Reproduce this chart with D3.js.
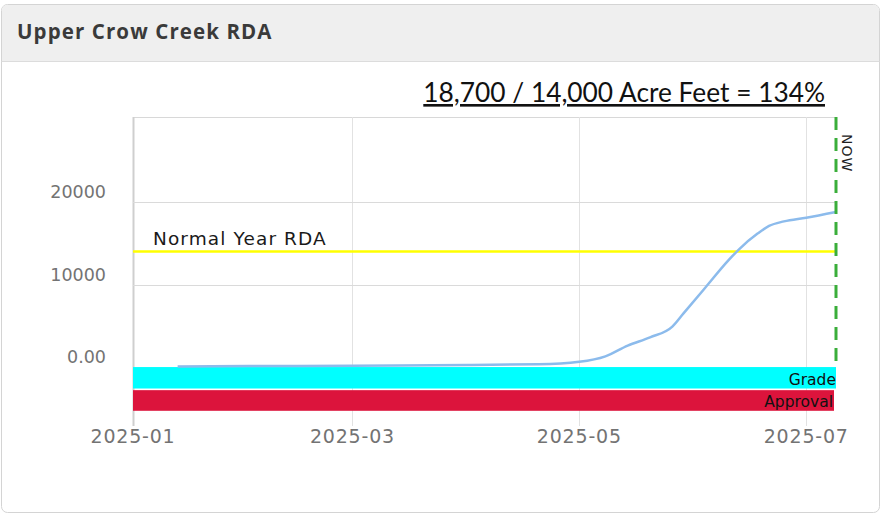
<!DOCTYPE html>
<html>
<head>
<meta charset="utf-8">
<script src="https://cdn.jsdelivr.net/npm/d3@7"></script>
<style>
  body { margin: 0; background: #fff; }
  svg { display: block; }
</style>
</head>
<body>
<div id="chart"></div>
<script>
// series: cumulative acre feet by date
var dates = ["2025-01-13","2025-02-01","2025-03-01","2025-04-01","2025-04-20","2025-05-01","2025-05-08","2025-05-14","2025-05-20","2025-05-26","2025-05-29","2025-06-04","2025-06-10","2025-06-13","2025-06-18","2025-06-21","2025-06-25","2025-07-01","2025-07-09"];
var acreFeet = [80, 120, 170, 250, 330, 640, 1300, 2600, 3600, 4900, 6500, 9700, 12900, 14300, 16200, 17100, 17650, 18100, 18800];
// reference lines
var normalYear = 14000;
var nowDate = "2025-07-09";
// status bands (drawn below zero)
var bandNames = ["Grade", "Approval"];
var bandTop = [0, -2800];
var bandBottom = [-2600, -5300];
var bandColors = ["#00ffff", "#dc143c"];
// ticks
var yTicks = [0, 10000, 20000];
var xTicks = ["2025-01-01","2025-03-01","2025-05-01","2025-07-01"];
var title = "Upper Crow Creek RDA";
var summary = "18,700 / 14,000 Acre Feet = 134%";

var width = 885, height = 515;
var margin = {top:117, right:49, bottom:91, left:133};

var parse = d3.timeParse("%Y-%m-%d");
var data = dates.map(function(d, i) { return {date: parse(d), value: acreFeet[i]}; });

var svg = d3.select("#chart").append("svg")
    .attr("width", width)
    .attr("height", height);

//panel frame and header
svg.append("rect")
    .attr("x", 1.5).attr("y", 4.5)
    .attr("width", 878).attr("height", 508)
    .attr("rx", 6)
    .attr("fill", "#fff")
    .attr("stroke", "#d4d4d4");
svg.append("path")
    .attr("d", "M2,61 L2,10.5 Q2,5 7.5,5 L873.5,5 Q879,5 879,10.5 L879,61 Z")
    .attr("fill", "#efefef");
svg.append("line")
    .attr("x1", 1.5).attr("x2", 879.5)
    .attr("y1", 61.5).attr("y2", 61.5)
    .attr("stroke", "#dcdcdc");
svg.append("text")
    .attr("x", 17).attr("y", 39)
    .attr("font-family", "'Open Sans', sans-serif")
    .attr("font-weight", "bold")
    .attr("font-size", 20.5)
    .attr("letter-spacing", 1.1)
    .attr("fill", "#3a3a3a")
    .text(title);

//summary heading with underline
svg.append("text")
    .attr("x", 825).attr("y", 102)
    .attr("text-anchor", "end")
    .attr("font-family", "Lato, 'Open Sans', sans-serif")
    .attr("font-size", 26.3)
    .attr("fill", "#111")
    .attr("text-decoration", "underline")
    .text(summary);

var xScale = d3.scaleTime()
    .domain([parse("2025-01-01"), parse("2025-07-09")])
    .range([margin.left, width - margin.right]);

var yScale = d3.scaleLinear()
    .domain([-6900, 30300])
    .range([height - margin.bottom, margin.top]);

var plotBottom = height - margin.bottom;
var plotRight = width - margin.right;

//plot frame top line
svg.append("line")
    .attr("x1", margin.left).attr("x2", plotRight)
    .attr("y1", margin.top + 0.5).attr("y2", margin.top + 0.5)
    .attr("stroke", "#d8d8d8");

//vertical gridlines
svg.selectAll(".xgrid")
    .data(xTicks)
    .enter()
    .append("line")
    .attr("class", "xgrid")
    .attr("x1", function(d) { return Math.round(xScale(parse(d))) + 0.5; })
    .attr("x2", function(d) { return Math.round(xScale(parse(d))) + 0.5; })
    .attr("y1", margin.top)
    .attr("y2", plotBottom + 2)
    .attr("stroke", function(d, i) { return i === 0 ? "#cfcfcf" : "#e2e2e2"; })
    .attr("stroke-width", function(d, i) { return i === 0 ? 2 : 1; });

//horizontal gridlines
svg.selectAll(".ygrid")
    .data(yTicks.filter(function(d) { return d > 0; }))
    .enter()
    .append("line")
    .attr("class", "ygrid")
    .attr("x1", margin.left).attr("x2", plotRight)
    .attr("y1", function(d) { return Math.round(yScale(d)) + 0.5; })
    .attr("y2", function(d) { return Math.round(yScale(d)) + 0.5; })
    .attr("stroke", "#dadada");

//y tick labels sit above their gridline
svg.selectAll(".ylabel")
    .data(yTicks)
    .enter()
    .append("text")
    .attr("class", "ylabel")
    .attr("x", 106)
    .attr("y", function(d) { return yScale(d) - 4; })
    .attr("text-anchor", "end")
    .attr("font-family", "'DejaVu Sans', sans-serif")
    .attr("font-size", 17.5)
    .attr("fill", "#737373")
    .text(function(d) { return d === 0 ? "0.00" : d; });

//x tick labels
svg.selectAll(".xlabel")
    .data(xTicks)
    .enter()
    .append("text")
    .attr("class", "xlabel")
    .attr("x", function(d) { return xScale(parse(d)); })
    .attr("y", 443)
    .attr("text-anchor", "middle")
    .attr("font-family", "'DejaVu Sans', sans-serif")
    .attr("font-size", 19)
    .attr("letter-spacing", 0.8)
    .attr("fill", "#737373")
    .text(function(d) { return d.slice(0, 7); });

//status bands
svg.selectAll(".band")
    .data(bandNames)
    .enter()
    .append("rect")
    .attr("class", "band")
    .attr("x", margin.left)
    .attr("y", function(d, i) { return yScale(bandTop[i]); })
    .attr("width", function(d, i) { return plotRight - margin.left - i * 2; })
    .attr("height", function(d, i) { return yScale(bandBottom[i]) - yScale(bandTop[i]); })
    .attr("fill", function(d, i) { return bandColors[i]; });

svg.selectAll(".bandlabel")
    .data(bandNames)
    .enter()
    .append("text")
    .attr("class", "bandlabel")
    .attr("x", function(d, i) { return plotRight - i * 3; })
    .attr("y", function(d, i) { return yScale(bandBottom[i]) - 4; })
    .attr("text-anchor", "end")
    .attr("font-family", "'DejaVu Sans', sans-serif")
    .attr("font-size", 15.5)
    .attr("fill", "#111")
    .text(function(d) { return d; });

//normal year line
svg.append("line")
    .attr("x1", margin.left).attr("x2", plotRight)
    .attr("y1", yScale(normalYear)).attr("y2", yScale(normalYear))
    .attr("stroke", "#ffff00")
    .attr("stroke-width", 2.5);
svg.append("text")
    .attr("x", 153)
    .attr("y", yScale(normalYear) - 7)
    .attr("font-family", "'DejaVu Sans', sans-serif")
    .attr("font-size", 18.5)
    .attr("letter-spacing", 1.1)
    .attr("fill", "#1a1a1a")
    .text("Normal Year RDA");

//cumulative line
var line = d3.line()
    .x(function(d) { return xScale(d.date); })
    .y(function(d) { return yScale(d.value); })
    .curve(d3.curveMonotoneX);
svg.append("path")
    .datum(data)
    .attr("d", line)
    .attr("fill", "none")
    .attr("stroke", "#8cbbec")
    .attr("stroke-width", 2.5);

//now marker
var nowX = xScale(parse(nowDate));
svg.append("line")
    .attr("x1", nowX).attr("x2", nowX)
    .attr("y1", margin.top).attr("y2", yScale(0))
    .attr("stroke", "#3aae3a")
    .attr("stroke-width", 3)
    .attr("stroke-dasharray", "13,8");
svg.append("text")
    .attr("transform", "translate(" + (nowX + 6) + "," + 134 + ") rotate(90)")
    .attr("font-family", "'DejaVu Sans', sans-serif")
    .attr("font-size", 14)
    .attr("letter-spacing", 1)
    .attr("fill", "#222")
    .text("NOW");
</script>
</body>
</html>
